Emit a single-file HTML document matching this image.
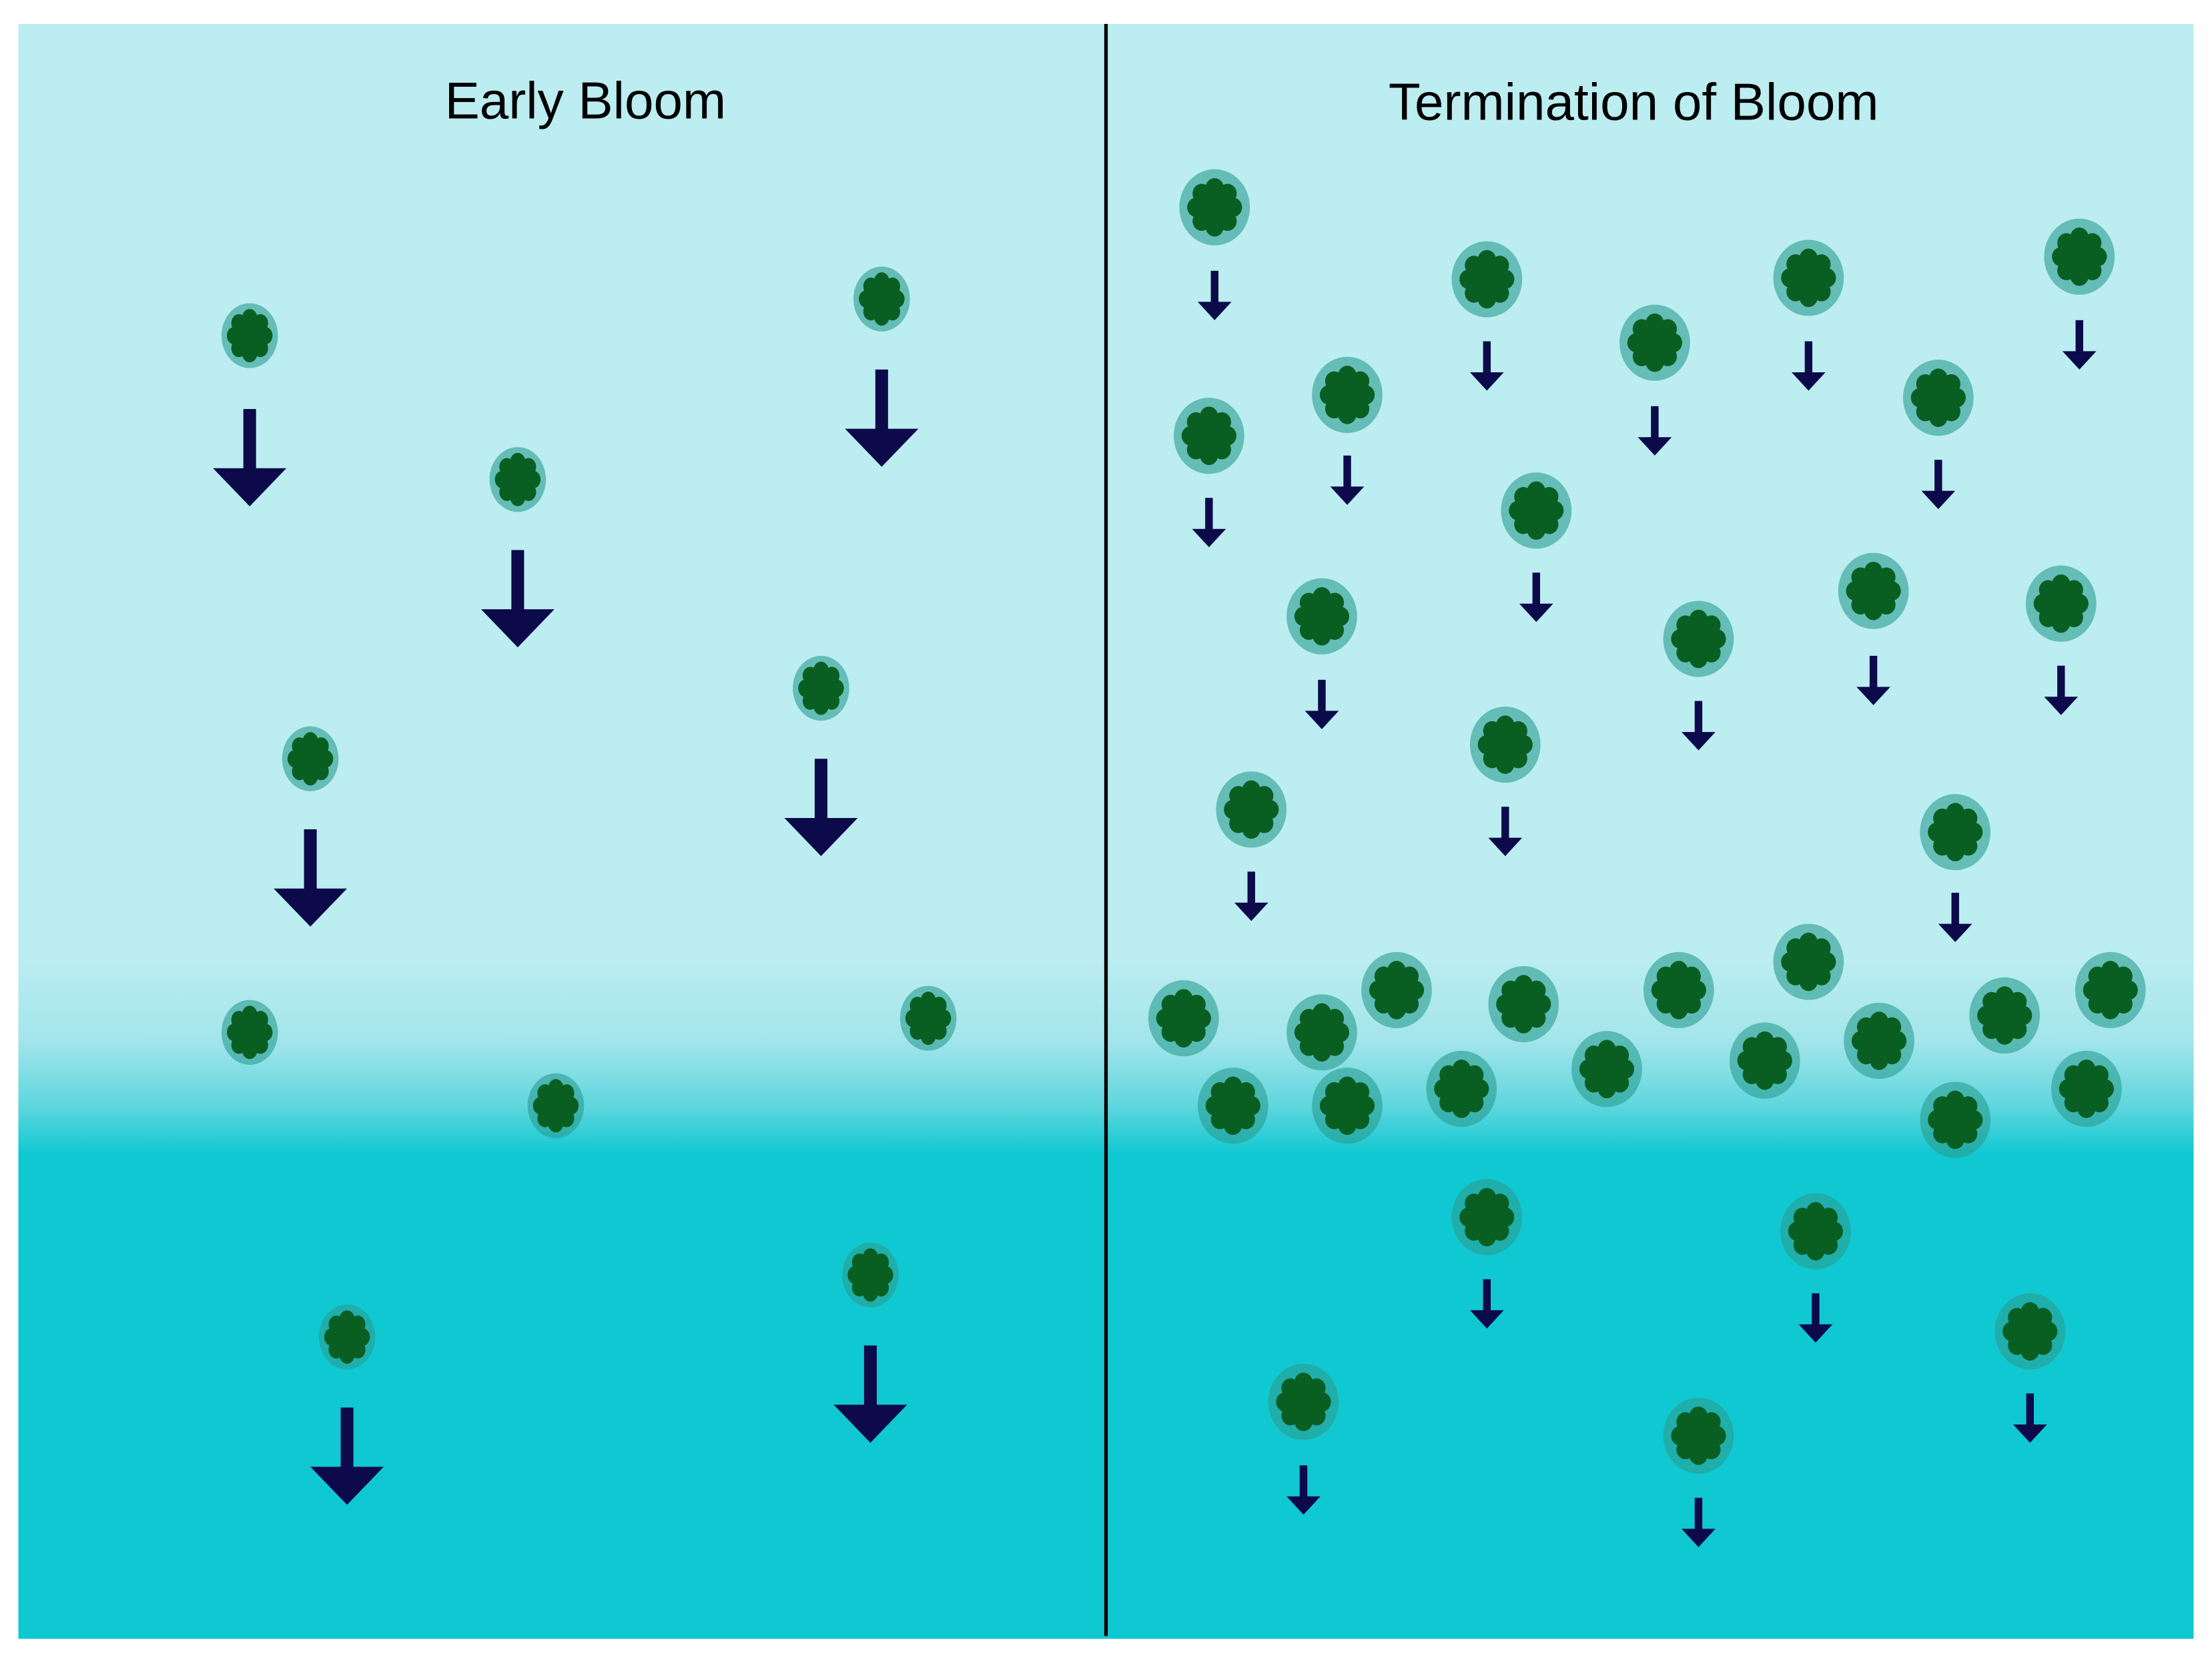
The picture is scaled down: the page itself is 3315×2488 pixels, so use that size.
<!DOCTYPE html>
<html><head><meta charset="utf-8"><style>
html,body{margin:0;padding:0;background:#fff;}
svg{display:block;}
</style></head><body>
<svg width="3315" height="2488" viewBox="0 0 1568 1177" preserveAspectRatio="none" xmlns="http://www.w3.org/2000/svg">
<defs>
<linearGradient id="bg" x1="0" y1="0" x2="0" y2="1">
<stop offset="0" stop-color="#bbedf1"/>
<stop offset="0.58" stop-color="#bbedf1"/>
<stop offset="0.63" stop-color="#a2e5eb"/>
<stop offset="0.67" stop-color="#5fd6de"/>
<stop offset="0.70" stop-color="#10c8d2"/>
<stop offset="1" stop-color="#10c8d2"/>
</linearGradient>
<g id="blob">
<circle cx="0" cy="0" r="13"/>
<circle cx="0" cy="-12" r="6"/>
<circle cx="8.5" cy="-8.5" r="6"/>
<circle cx="12" cy="0" r="6"/>
<circle cx="8.5" cy="8.5" r="6"/>
<circle cx="0" cy="12" r="6"/>
<circle cx="-8.5" cy="8.5" r="6"/>
<circle cx="-12" cy="0" r="6"/>
<circle cx="-8.5" cy="-8.5" r="6"/>
</g>
<g id="cellR"><ellipse cx="0" cy="0" rx="25" ry="27" fill="#2a9d8f" opacity="0.6"/><g transform="scale(1.08,1.15)"><use href="#blob" fill="#095e22"/></g></g>
<g id="cellL"><ellipse cx="0" cy="0" rx="20" ry="23" fill="#2a9d8f" opacity="0.6"/><g transform="scale(0.9,1.05)"><use href="#blob" fill="#095e22"/></g></g>
<g id="arrS" fill="#0c0a4a"><rect x="-2.7" y="0" width="5.4" height="24"/><polygon points="-12,22 12,22 0,35"/></g>
<g id="arrB" fill="#0c0a4a"><rect x="-4.5" y="0" width="9" height="44"/><polygon points="-26,42 26,42 0,69"/></g>
</defs>
<rect x="13" y="17" width="1542" height="1145" fill="url(#bg)"/>
<line x1="784" y1="17" x2="784" y2="1160" stroke="#000" stroke-width="2.5"/>
<text x="415" y="84" font-family="Liberation Sans, sans-serif" font-size="37" text-anchor="middle" fill="#000">Early Bloom</text>
<text x="1158" y="85" font-family="Liberation Sans, sans-serif" font-size="37" text-anchor="middle" fill="#000">Termination of Bloom</text>

<use href="#cellL" x="177" y="238"/><use href="#arrB" x="177" y="290"/>
<use href="#cellL" x="625" y="212"/><use href="#arrB" x="625" y="262"/>
<use href="#cellL" x="367" y="340"/><use href="#arrB" x="367" y="390"/>
<use href="#cellL" x="582" y="488"/><use href="#arrB" x="582" y="538"/>
<use href="#cellL" x="220" y="538"/><use href="#arrB" x="220" y="588"/>
<use href="#cellL" x="177" y="732"/>
<use href="#cellL" x="658" y="722"/>
<use href="#cellL" x="394" y="784"/>
<use href="#cellL" x="617" y="904"/><use href="#arrB" x="617" y="954"/>
<use href="#cellL" x="246" y="948"/><use href="#arrB" x="246" y="998"/>

<use href="#cellR" x="861" y="147"/><use href="#arrS" x="861" y="192"/>
<use href="#cellR" x="1054" y="198"/><use href="#arrS" x="1054" y="242"/>
<use href="#cellR" x="1282" y="197"/><use href="#arrS" x="1282" y="242"/>
<use href="#cellR" x="1474" y="182"/><use href="#arrS" x="1474" y="227"/>
<use href="#cellR" x="1173" y="243"/><use href="#arrS" x="1173" y="288"/>
<use href="#cellR" x="955" y="280"/><use href="#arrS" x="955" y="323"/>
<use href="#cellR" x="857" y="309"/><use href="#arrS" x="857" y="353"/>
<use href="#cellR" x="1374" y="282"/><use href="#arrS" x="1374" y="326"/>
<use href="#cellR" x="1089" y="362"/><use href="#arrS" x="1089" y="406"/>
<use href="#cellR" x="937" y="437"/><use href="#arrS" x="937" y="482"/>
<use href="#cellR" x="1204" y="453"/><use href="#arrS" x="1204" y="497"/>
<use href="#cellR" x="1328" y="419"/><use href="#arrS" x="1328" y="465"/>
<use href="#cellR" x="1461" y="428"/><use href="#arrS" x="1461" y="472"/>
<use href="#cellR" x="1067" y="528"/><use href="#arrS" x="1067" y="572"/>
<use href="#cellR" x="887" y="574"/><use href="#arrS" x="887" y="618"/>
<use href="#cellR" x="1386" y="590"/><use href="#arrS" x="1386" y="633"/>
<use href="#cellR" x="1054" y="863"/><use href="#arrS" x="1054" y="907"/>
<use href="#cellR" x="1287" y="873"/><use href="#arrS" x="1287" y="917"/>
<use href="#cellR" x="1439" y="944"/><use href="#arrS" x="1439" y="988"/>
<use href="#cellR" x="924" y="994"/><use href="#arrS" x="924" y="1039"/>
<use href="#cellR" x="1204" y="1018"/><use href="#arrS" x="1204" y="1062"/>

<use href="#cellR" x="839" y="722"/>
<use href="#cellR" x="990" y="702"/>
<use href="#cellR" x="1080" y="712"/>
<use href="#cellR" x="1190" y="702"/>
<use href="#cellR" x="1282" y="682"/>
<use href="#cellR" x="1421" y="720"/>
<use href="#cellR" x="1496" y="702"/>
<use href="#cellR" x="937" y="732"/>
<use href="#cellR" x="874" y="784"/>
<use href="#cellR" x="955" y="784"/>
<use href="#cellR" x="1036" y="772"/>
<use href="#cellR" x="1139" y="758"/>
<use href="#cellR" x="1251" y="752"/>
<use href="#cellR" x="1332" y="738"/>
<use href="#cellR" x="1386" y="794"/>
<use href="#cellR" x="1479" y="772"/>
</svg>
</body></html>
